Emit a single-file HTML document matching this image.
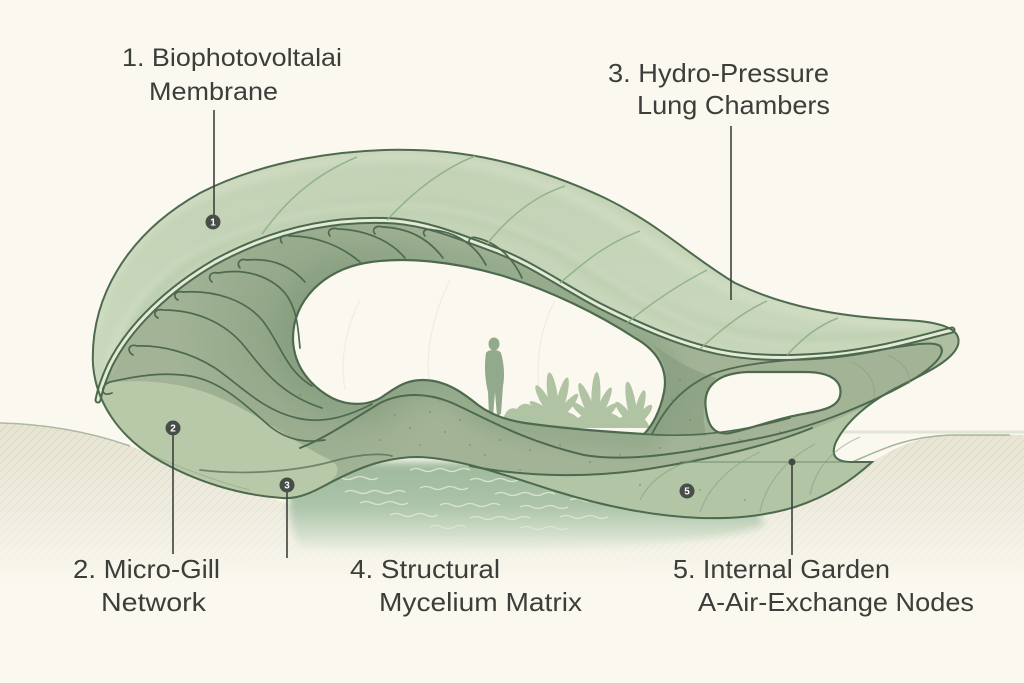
<!DOCTYPE html>
<html><head><meta charset="utf-8"><style>
html,body{margin:0;padding:0;background:#fbf9ef;}
svg{display:block;}
text{font-family:"Liberation Sans",Arial,sans-serif;fill:#3b3e3a;}
</style></head><body>
<svg width="1024" height="683" viewBox="0 0 1024 683" xmlns="http://www.w3.org/2000/svg">
<defs>
  <pattern id="hatch" patternUnits="userSpaceOnUse" width="8" height="8">
    <path d="M-1,9 L9,-1" stroke="#cbc7b1" stroke-width="0.7"/>
  </pattern>
  <linearGradient id="groundG" gradientUnits="userSpaceOnUse" x1="0" y1="420" x2="0" y2="585">
    <stop offset="0" stop-color="#e6e3d1"/>
    <stop offset="0.55" stop-color="#efede0"/>
    <stop offset="1" stop-color="#fbf9ef"/>
  </linearGradient>
  <linearGradient id="fadeMaskG" gradientUnits="userSpaceOnUse" x1="0" y1="425" x2="0" y2="580">
    <stop offset="0" stop-color="#fff" stop-opacity="1"/>
    <stop offset="1" stop-color="#fff" stop-opacity="0"/>
  </linearGradient>
  <mask id="fadeMask"><rect x="0" y="400" width="1024" height="200" fill="url(#fadeMaskG)"/></mask>
  <linearGradient id="waterG" gradientUnits="userSpaceOnUse" x1="0" y1="455" x2="0" y2="555">
    <stop offset="0" stop-color="#9cb79b"/>
    <stop offset="0.5" stop-color="#abc3a9"/>
    <stop offset="0.8" stop-color="#d3dfcb"/>
    <stop offset="1" stop-color="#f6f6ea"/>
  </linearGradient>
  <radialGradient id="darkR" gradientUnits="userSpaceOnUse" cx="320" cy="330" r="150">
    <stop offset="0" stop-color="#6b8667" stop-opacity="0.45"/>
    <stop offset="1" stop-color="#6b8667" stop-opacity="0"/>
  </radialGradient>
  <linearGradient id="memG" gradientUnits="userSpaceOnUse" x1="0" y1="150" x2="0" y2="360">
    <stop offset="0" stop-color="#c3d2b5"/>
    <stop offset="1" stop-color="#c9d8bc"/>
  </linearGradient>
  <filter id="blur4" x="-20%" y="-20%" width="140%" height="140%"><feGaussianBlur stdDeviation="4"/></filter>
  <filter id="blur8" x="-20%" y="-20%" width="140%" height="140%"><feGaussianBlur stdDeviation="8"/></filter>
  <clipPath id="silClip">
    <path d="M93,365 C90,300 125,235 200,193 C260,162 340,148 413,150 C480,151 545,170 605,198 C660,225 690,256 735,283 C785,307 840,317 905,320 C945,322 962,330 958,345 C953,360 928,372 900,386 C868,402 846,422 836,442 C830,456 836,462 852,462 L872,462 C850,482 828,496 795,507 C765,516 735,519 700,518 C650,516 600,505 555,491 C510,477 460,458 418,457 C380,457 350,472 322,487 C307,495 295,499 282,498 C240,495 195,482 155,458 C118,435 96,402 93,365 Z"/>
  </clipPath>
  <clipPath id="memClip">
    <path d="M98,400 C95,390 93,378 93,365 C90,300 125,235 200,193 C260,162 340,148 413,150 C480,151 545,170 605,198 C660,225 690,256 735,283 C785,307 840,317 905,320 C935,322 950,325 952,330 C920,338 880,350 833,355 C790,359 750,358 720,352 C680,344 640,326 600,306 C560,285 530,262 490,248 C460,237 430,224 395,221 C330,217 270,232 215,262 C170,288 130,325 110,365 C104,378 100,390 98,400 Z"/>
  </clipPath>
  <clipPath id="cavClip">
    <path d="M293,340 C292,300 325,270 365,263 C405,256 455,262 500,275 C550,290 600,315 635,338 C660,352 668,372 664,392 C660,412 652,426 644,434 C610,432 560,428 525,423 C505,420 490,414 478,405 C462,392 445,380 423,380 C405,380 395,388 382,397 C368,406 348,406 332,398 C310,386 294,366 293,340 Z"/>
  </clipPath>
</defs>

<rect width="1024" height="683" fill="#fbf9ef"/>

<!-- ground -->
<path d="M0,423 C45,424 90,432 130,446 L290,505 L700,525 L872,462 C895,448 915,437 950,435 L1024,435 L1024,600 L0,600 Z" fill="url(#groundG)"/>
<path d="M0,423 C45,424 90,432 130,446 L290,505 L700,525 L872,462 C895,448 915,437 950,435 L1024,435 L1024,600 L0,600 Z" fill="url(#hatch)" mask="url(#fadeMask)" opacity="0.65"/>
<path d="M830,432 L1024,432" stroke="#e1e5d5" stroke-width="3"/>
<path d="M0,423 C45,424 90,432 130,446" stroke="#adb9a3" stroke-width="1.5" fill="none"/>
<path d="M850,463 C880,450 905,437 950,435 L1010,435" stroke="#a4b69c" stroke-width="1.6" fill="none"/>

<!-- water -->
<path d="M295,462 L730,462 L765,525 C700,553 400,553 300,548 C286,520 286,490 295,462 Z" fill="url(#waterG)" filter="url(#blur4)"/>
<g stroke="#dce8d4" stroke-width="1.3" fill="none" opacity="0.9">
  <path d="M330,478 q6,-3 12,0 t12,0 t12,0 t12,0"/>
  <path d="M410,470 q6,-3 12,0 t12,0 t12,0 t12,0 t12,0"/>
  <path d="M470,480 q6,-3 12,0 t12,0 t12,0 t12,0"/>
  <path d="M345,492 q6,-3 12,0 t12,0 t12,0 t12,0 t12,0"/>
  <path d="M420,488 q6,-3 12,0 t12,0 t12,0 t12,0"/>
  <path d="M495,494 q6,-3 12,0 t12,0 t12,0 t12,0 t12,0"/>
  <path d="M570,500 q6,-3 12,0 t12,0 t12,0 t12,0"/>
  <path d="M360,503 q6,-3 12,0 t12,0 t12,0 t12,0"/>
  <path d="M440,505 q6,-3 12,0 t12,0 t12,0 t12,0 t12,0"/>
  <path d="M520,507 q6,-3 12,0 t12,0 t12,0 t12,0"/>
  <path d="M390,515 q6,-3 12,0 t12,0 t12,0 t12,0"/>
  <path d="M470,518 q6,-3 12,0 t12,0 t12,0 t12,0 t12,0"/>
  <path d="M560,517 q6,-3 12,0 t12,0 t12,0 t12,0"/>
  <path d="M430,527 q6,-3 12,0 t12,0 t12,0"/>
  <path d="M520,528 q6,-3 12,0 t12,0 t12,0 t12,0"/>
</g>

<!-- shell base -->
<path d="M93,365 C90,300 125,235 200,193 C260,162 340,148 413,150 C480,151 545,170 605,198 C660,225 690,256 735,283 C785,307 840,317 905,320 C945,322 962,330 958,345 C953,360 928,372 900,386 C868,402 846,422 836,442 C830,456 836,462 852,462 L872,462 C850,482 828,496 795,507 C765,516 735,519 700,518 C650,516 600,505 555,491 C510,477 460,458 418,457 C380,457 350,472 322,487 C307,495 295,499 282,498 C240,495 195,482 155,458 C118,435 96,402 93,365 Z" fill="#a2b495"/>

<g clip-path="url(#silClip)">
  <rect x="150" y="180" width="350" height="300" fill="url(#darkR)"/>
  <path d="M293,340 C292,300 325,270 365,263 C405,256 455,262 500,275 C550,290 600,315 635,338 C660,352 668,372 664,392 C660,412 652,426 644,434 C610,432 560,428 525,423 C505,420 490,414 478,405 C462,392 445,380 423,380 C405,380 395,388 382,397 C368,406 348,406 332,398 C310,386 294,366 293,340 Z" fill="none" stroke="#7e987a" stroke-width="36" opacity="0.35" filter="url(#blur8)"/>
  <!-- left lobe lighter -->
  <path d="M95,385 C130,378 180,380 220,398 C260,415 290,440 330,460 C345,468 335,480 322,487 C307,495 295,499 282,498 C240,495 195,482 155,458 C118,435 97,410 95,385 Z" fill="#b7c9a8"/>
  <path d="M95,385 C130,378 180,380 220,398 C260,415 290,440 330,460 C345,468 335,480 322,487 C307,495 295,499 282,498 C240,495 195,482 155,458 C118,435 97,410 95,385 Z" fill="url(#hatch)" opacity="0.4"/>
  <!-- tail lighter -->
  <path d="M470,466 C530,478 600,478 660,467 C720,457 770,445 810,430 C850,415 885,398 905,386 C925,372 945,355 952,345 C953,360 928,372 900,386 C868,402 846,422 836,442 C830,456 836,462 852,462 L872,462 C850,482 828,496 795,507 C765,516 735,519 700,518 C650,516 600,505 555,491 C520,480 495,470 470,466 Z" fill="#b2c5a5"/>
  <!-- tip frame lighter band -->
  <path d="M905,320 C945,322 962,330 958,345 C953,360 928,372 900,386 C868,402 846,422 836,442 C830,456 836,462 852,462 L872,462 L860,440 C870,420 900,400 928,372 C945,355 948,346 937,343 C925,340 915,336 905,320 Z" fill="#adbfa0"/>
  <!-- column darker -->
  <path d="M640,335 C665,350 670,375 664,395 C660,415 650,430 644,436 L706,436 C703,420 700,395 716,378 C690,370 665,355 640,335 Z" fill="#8a9f82" opacity="0.75"/>
  <!-- membrane -->
  <path d="M98,400 C95,390 93,378 93,365 C90,300 125,235 200,193 C260,162 340,148 413,150 C480,151 545,170 605,198 C660,225 690,256 735,283 C785,307 840,317 905,320 C935,322 950,325 952,330 C920,338 880,350 833,355 C790,359 750,358 720,352 C680,344 640,326 600,306 C560,285 530,262 490,248 C460,237 430,224 395,221 C330,217 270,232 215,262 C170,288 130,325 110,365 C104,378 100,390 98,400 Z" fill="url(#memG)"/>
  <g clip-path="url(#memClip)">
    <path d="M125,350 C140,300 175,262 225,240 C285,214 355,203 418,206 C485,210 545,238 598,275 C645,306 690,326 742,337 C800,346 870,343 935,335" fill="none" stroke="#b2c6a4" stroke-width="16" opacity="0.45" filter="url(#blur4)"/>
    <path d="M95,330 C105,265 150,215 215,190 C280,166 350,155 415,157 C485,160 545,180 600,210 C655,242 690,272 738,293 C790,314 850,322 935,327" fill="none" stroke="#d9e3cb" stroke-width="10" opacity="0.55" filter="url(#blur4)"/>
  </g>
  <path d="M108,370 C120,312 162,264 217,241 C277,214 350,203 415,206 C480,209 545,234 600,272 C650,305 690,327 740,339 C800,350 870,346 935,337" fill="none" stroke="#e2ead5" stroke-width="5" opacity="0.55" filter="url(#blur4)"/>
  <!-- ground line through shell -->
  <path d="M130,446 C170,463 210,480 250,490" stroke="#8aa286" stroke-width="1" fill="none" opacity="0.5"/>
  <path d="M680,462 L872,462" stroke="#6e8b6f" stroke-width="1.3" opacity="0.75"/>
</g>

<!-- cavity and window -->
<path d="M293,340 C292,300 325,270 365,263 C405,256 455,262 500,275 C550,290 600,315 635,338 C660,352 668,372 664,392 C660,412 652,426 644,434 C610,432 560,428 525,423 C505,420 490,414 478,405 C462,392 445,380 423,380 C405,380 395,388 382,397 C368,406 348,406 332,398 C310,386 294,366 293,340 Z" fill="#fbf9ef"/>
<path d="M706,410 C702,386 718,373 748,372 L805,372 C832,372 843,382 840,396 C837,409 818,411 798,415 C772,420 750,429 730,433 C713,436 708,424 706,410 Z" fill="#fbf9ef"/>

<!-- person and plants -->
<g clip-path="url(#cavClip)">
  <g fill="none" stroke="#ebeadc" stroke-width="1.2" opacity="0.8">
    <path d="M360,300 C345,330 340,360 345,390"/>
    <path d="M450,280 C430,320 425,360 430,385"/>
    <path d="M555,300 C540,330 535,360 540,400"/>
  </g>
  <g fill="#93a98b">
    <ellipse cx="494" cy="344" rx="5.5" ry="6.5"/>
    <path d="M486,353 C488,349 499,349 501,353 C504,363 505,376 503,386 L501,414 L497,416 L495,392 L493,416 L489,416 L488,392 C485,380 484,365 486,353 Z"/>
  </g>
  <g fill="#acc19f" opacity="0.95">
    <path d="M503,424 C503,412 510,406 517,409 C521,402 530,402 534,409 C539,405 546,408 548,416 L548,428 Z"/>
    <g transform="translate(556,420)">
      <ellipse cx="0" cy="-16" rx="4" ry="16" transform="rotate(-55)"/>
      <ellipse cx="0" cy="-20" rx="4.5" ry="20" transform="rotate(-30)"/>
      <ellipse cx="0" cy="-24" rx="5" ry="24" transform="rotate(-8)"/>
      <ellipse cx="0" cy="-22" rx="4.5" ry="22" transform="rotate(15)"/>
      <ellipse cx="0" cy="-17" rx="4" ry="17" transform="rotate(40)"/>
    </g>
    <g transform="translate(595,422)">
      <ellipse cx="0" cy="-15" rx="4" ry="15" transform="rotate(-50)"/>
      <ellipse cx="0" cy="-21" rx="4.5" ry="21" transform="rotate(-22)"/>
      <ellipse cx="0" cy="-25" rx="4.5" ry="25" transform="rotate(2)"/>
      <ellipse cx="0" cy="-19" rx="4" ry="19" transform="rotate(25)"/>
      <ellipse cx="0" cy="-14" rx="4" ry="14" transform="rotate(50)"/>
    </g>
    <g transform="translate(635,425)">
      <ellipse cx="0" cy="-15" rx="4" ry="15" transform="rotate(-40)"/>
      <ellipse cx="0" cy="-22" rx="4.5" ry="22" transform="rotate(-10)"/>
      <ellipse cx="0" cy="-18" rx="4" ry="18" transform="rotate(15)"/>
      <ellipse cx="0" cy="-13" rx="4" ry="13" transform="rotate(40)"/>
    </g>
    <path d="M505,428 C515,412 530,412 540,418 C555,408 570,410 578,418 C592,408 610,410 620,418 C632,410 645,414 650,428 Z"/>
  </g>
</g>

<!-- speckles -->
<g fill="#6c8469" opacity="0.55">
  <circle cx="395" cy="415" r="1"/><circle cx="410" cy="428" r="1"/><circle cx="430" cy="412" r="1"/><circle cx="445" cy="432" r="1"/>
  <circle cx="380" cy="440" r="1"/><circle cx="420" cy="445" r="1"/><circle cx="460" cy="420" r="1"/><circle cx="470" cy="445" r="1"/>
  <circle cx="500" cy="440" r="1"/><circle cx="530" cy="450" r="1"/><circle cx="560" cy="445" r="1"/><circle cx="590" cy="462" r="1"/>
  <circle cx="620" cy="455" r="1"/><circle cx="660" cy="448" r="1"/><circle cx="700" cy="447" r="1"/><circle cx="740" cy="440" r="1"/>
  <circle cx="780" cy="432" r="1"/><circle cx="280" cy="360" r="1"/><circle cx="300" cy="395" r="1"/><circle cx="672" cy="400" r="1"/>
  <circle cx="690" cy="420" r="1"/><circle cx="680" cy="380" r="1"/><circle cx="700" cy="490" r="1"/><circle cx="745" cy="500" r="1"/>
  <circle cx="640" cy="485" r="1"/><circle cx="520" cy="470" r="1"/><circle cx="485" cy="455" r="1"/><circle cx="440" cy="400" r="1"/>
</g>

<!-- structural lines -->
<g fill="none" stroke="#4d6a4f" stroke-linecap="round">
  <path d="M952,330 C920,338 880,350 833,355 C790,359 750,358 720,352 C680,344 640,326 600,306 C560,285 530,262 490,248 C460,237 430,224 395,221 C330,217 270,232 215,262 C170,288 130,325 110,365 C104,378 100,390 98,400" stroke-width="7"/>
  <path d="M952,330 C920,338 880,350 833,355 C790,359 750,358 720,352 C680,344 640,326 600,306 C560,285 530,262 490,248 C460,237 430,224 395,221 C330,217 270,232 215,262 C170,288 130,325 110,365 C104,378 100,390 98,400" stroke="#e3ebd7" stroke-width="3"/>
  <g stroke-width="1.7">
    <path d="M112,393 C100,398 100,385 110,382 C140,375 165,372 190,376 C225,382 250,410 272,428 C288,440 305,443 325,440"/>
    <path d="M133,355 C126,351 129,343 137,346 C160,345 190,352 215,368 C240,385 262,410 297,418 C322,424 347,417 372,404"/>
    <path d="M158,318 C152,315 155,308 163,310 C195,310 225,322 245,347 C265,372 282,395 322,408"/>
    <path d="M178,300 C172,297 175,290 183,292 C215,290 245,300 262,320 C280,342 285,370 312,386"/>
    <path d="M212,282 C207,278 210,271 218,273 C245,268 270,276 285,293 C298,310 298,330 300,348"/>
    <path d="M240,268 C236,263 240,258 247,260 C270,258 290,265 305,282"/>
    <path d="M282,243 C278,238 283,234 290,236 C315,236 340,245 360,262"/>
    <path d="M330,236 C326,231 331,227 338,229 C365,230 390,240 405,258"/>
    <path d="M375,234 C371,229 376,225 383,227 C408,228 428,238 443,258"/>
    <path d="M425,236 C421,231 426,228 433,230 C455,232 475,244 486,265"/>
    <path d="M470,244 C467,240 471,236 477,238 C495,242 512,256 522,278"/>
    <path d="M200,470 C250,476 300,470 330,462 C350,456 378,452 392,456" opacity="0.7"/>
  </g>
  <!-- hump line into rounded tip loop -->
  <path d="M300,448 C325,438 352,420 380,403 C400,393 425,392 450,402 C480,415 520,440 584,455 C630,463 690,452 760,438 C810,428 860,408 900,387 C928,372 948,355 940,346 C930,338 880,352 830,357" stroke-width="2"/>
  <path d="M652,434 C664,410 680,388 712,374 C745,362 790,360 830,357" stroke-width="1.8"/>
  <path d="M470,466 C530,478 600,478 660,467 C720,457 770,445 812,428" stroke-width="2"/>
  <path d="M644,434 C690,438 740,432 790,418" stroke-width="1.6"/>
  <path d="M293,340 C292,300 325,270 365,263 C405,256 455,262 500,275 C550,290 600,315 635,338 C660,352 668,372 664,392 C660,412 652,426 644,434 C610,432 560,428 525,423 C505,420 490,414 478,405 C462,392 445,380 423,380 C405,380 395,388 382,397 C368,406 348,406 332,398 C310,386 294,366 293,340 Z" stroke-width="2.2"/>
  <path d="M706,410 C702,386 718,373 748,372 L805,372 C832,372 843,382 840,396 C837,409 818,411 798,415 C772,420 750,429 730,433 C713,436 708,424 706,410 Z" stroke-width="2.2"/>
  <path d="M93,365 C90,300 125,235 200,193 C260,162 340,148 413,150 C480,151 545,170 605,198 C660,225 690,256 735,283 C785,307 840,317 905,320 C945,322 962,330 958,345 C953,360 928,372 900,386 C868,402 846,422 836,442 C830,456 836,462 852,462 L872,462 C850,482 828,496 795,507 C765,516 735,519 700,518 C650,516 600,505 555,491 C510,477 460,458 418,457 C380,457 350,472 322,487 C307,495 295,499 282,498 C240,495 195,482 155,458 C118,435 96,402 93,365 Z" stroke-width="2"/>
</g>

<!-- membrane panel lines -->
<g fill="none" stroke="#8db089" stroke-width="1.5" opacity="0.9">
  <path d="M262,234 C285,202 312,176 357,157"/>
  <path d="M387,220 C410,195 440,170 475,156"/>
  <path d="M487,244 C510,215 535,196 565,186"/>
  <path d="M560,283 C590,257 610,242 640,231"/>
  <path d="M627,323 C655,300 680,284 707,270"/>
  <path d="M700,349 C725,326 745,311 767,301"/>
  <path d="M787,355 C805,336 818,326 838,318"/>
</g>

<!-- tail arcs -->
<g fill="none" stroke="#86a283" stroke-width="1.2" opacity="0.6">
  <path d="M640,500 C650,480 670,466 700,458"/>
  <path d="M700,512 C710,485 730,466 760,452"/>
  <path d="M760,512 C765,485 785,460 815,444"/>
  <path d="M810,495 C815,470 830,450 860,437"/>
  <path d="M852,362 C868,370 876,382 874,397"/>
  <path d="M888,355 C903,362 911,372 909,384"/>
</g>

<!-- leaders -->
<g stroke="#3e413d" stroke-width="1.6">
  <line x1="214" y1="110" x2="214" y2="216"/>
  <line x1="731" y1="126" x2="731" y2="300"/>
  <line x1="173" y1="434" x2="173" y2="554"/>
  <line x1="287" y1="491" x2="287" y2="558"/>
  <line x1="792" y1="462" x2="792" y2="555"/>
</g>
<circle cx="792" cy="462" r="3.5" fill="#454a45"/>

<g fill="#484d48">
  <circle cx="213" cy="222" r="7.5"/>
  <circle cx="173" cy="428" r="7.5"/>
  <circle cx="287" cy="485" r="7.5"/>
  <circle cx="687" cy="491" r="7.5"/>
</g>
<g style="font-family:'Liberation Sans',Arial,sans-serif;font-size:10px;font-weight:bold;" text-anchor="middle">
  <text x="213" y="225.5" style="fill:#fff">1</text>
  <text x="173" y="431.5" style="fill:#fff">2</text>
  <text x="287" y="488.5" style="fill:#fff">3</text>
  <text x="687" y="494.5" style="fill:#fff">5</text>
</g>

<!-- labels -->
<text x="122" y="66" font-size="25" textLength="220" lengthAdjust="spacingAndGlyphs">1. Biophotovoltalai</text>
<text x="149" y="100" font-size="25" textLength="129" lengthAdjust="spacingAndGlyphs">Membrane</text>
<text x="608" y="82" font-size="26" textLength="221" lengthAdjust="spacingAndGlyphs">3. Hydro-Pressure</text>
<text x="637" y="114" font-size="26" textLength="193" lengthAdjust="spacingAndGlyphs">Lung Chambers</text>
<text x="73" y="578" font-size="26" textLength="147" lengthAdjust="spacingAndGlyphs">2. Micro-Gill</text>
<text x="101" y="611" font-size="26" textLength="105" lengthAdjust="spacingAndGlyphs">Network</text>
<text x="350" y="578" font-size="26" textLength="150" lengthAdjust="spacingAndGlyphs">4. Structural</text>
<text x="379" y="611" font-size="26" textLength="203" lengthAdjust="spacingAndGlyphs">Mycelium Matrix</text>
<text x="673" y="578" font-size="26" textLength="217" lengthAdjust="spacingAndGlyphs">5. Internal Garden</text>
<text x="698" y="611" font-size="26" textLength="276" lengthAdjust="spacingAndGlyphs">A-Air-Exchange Nodes</text>
</svg>
</body></html>
